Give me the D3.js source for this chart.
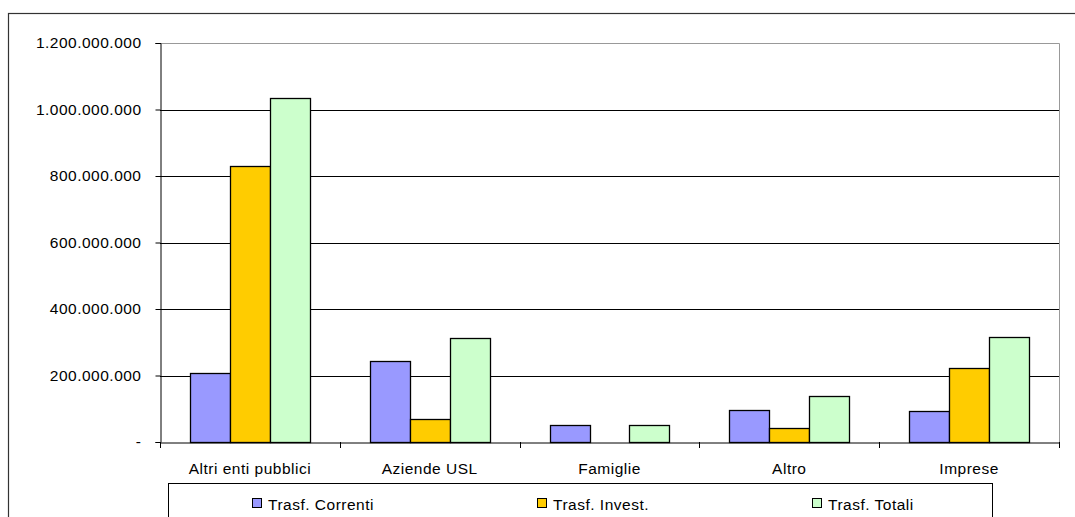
<!DOCTYPE html>
<html><head><meta charset="utf-8">
<script src="https://cdn.jsdelivr.net/npm/d3@7/dist/d3.min.js"></script>
<style>
html,body{margin:0;padding:0;background:#fff;}
text{font-family:"Liberation Sans",Arial,sans-serif;font-size:15px;fill:#000;letter-spacing:0.5px;}
</style></head>
<body>
<svg id="c" width="1075" height="517"></svg>
<script>
const categories = ["Altri enti pubblici","Aziende USL","Famiglie","Altro","Imprese"];
const seriesNames = ["Trasf. Correnti","Trasf. Invest.","Trasf. Totali"];
const correnti = [207000000, 243000000, 51000000, 96000000, 92000000];
const invest   = [829000000, 69000000, 0, 41000000, 224000000];
const totali   = [1036000000, 312000000, 51000000, 137000000, 316000000];
const yTicks = [0, 200000000, 400000000, 600000000, 800000000, 1000000000, 1200000000];
const yTickLabels = ["-", "200.000.000", "400.000.000", "600.000.000", "800.000.000", "1.000.000.000", "1.200.000.000"];
const colors = ["#9999FF", "#FFCC00", "#CCFFCC"];

const series = [correnti, invest, totali];
const svg = d3.select("#c");
const L = 160, R = 1059, T = 43, B = 442;

// outer frame
svg.append("rect").attr("x", 8.5).attr("y", 13.5).attr("width", 1080).attr("height", 600)
  .attr("fill", "none").attr("stroke", "#333").attr("stroke-width", 1.2);

const x0 = d3.scaleBand().domain(categories).range([L, R]).paddingInner(0).paddingOuter(0);
const x1 = d3.scaleBand().domain(d3.range(3)).range([0, x0.bandwidth()]).paddingInner(0).paddingOuter(0.75);
const y = d3.scaleLinear().domain([0, 1200000000]).range([B, T]);

// plot area border (gray top/right)
svg.append("path").attr("d", `M${L},${T + 0.5}H${R + 0.5}V${B}`).attr("fill", "none")
  .attr("stroke", "#999").attr("stroke-width", 1);

// gridlines
svg.append("g").selectAll("line").data(yTicks.filter(d => d > 0 && d < 1200000000)).join("line")
  .attr("x1", L).attr("x2", R).attr("y1", d => Math.round(y(d)) + 0.5).attr("y2", d => Math.round(y(d)) + 0.5)
  .attr("stroke", "#000").attr("stroke-width", 1);

// bars
const g = svg.append("g");
categories.forEach((c, i) => {
  series.forEach((s, j) => {
    const v = s[i];
    if (v <= 0) return;
    const xx = x0(c) + x1(j);
    g.append("rect")
      .attr("x", Math.round(xx) + 0.5)
      .attr("y", Math.round(y(v)) + 0.5)
      .attr("width", Math.round(x1.bandwidth()))
      .attr("height", Math.round(y(0)) - Math.round(y(v)))
      .attr("fill", colors[j]).attr("stroke", "#000").attr("stroke-width", 1.3);
  });
});

// y axis
const yAxis = d3.axisLeft(y).tickValues(yTicks).tickSize(5).tickPadding(14)
  .tickFormat((d, i) => yTickLabels[i]);
const ya = svg.append("g").attr("transform", `translate(${L + 0.5},0)`).call(yAxis);
ya.select(".domain").attr("stroke", "#000");
ya.selectAll(".tick line").attr("stroke", "#000");
ya.selectAll("text").attr("font-family", null).attr("font-size", null).style("font-size", "15.5px");

// x axis
const xa = svg.append("g").attr("transform", `translate(0,${B + 0.5})`)
  .call(d3.axisBottom(x0).tickSize(0).tickPadding(20));
xa.select(".domain").attr("stroke", "#000");
xa.selectAll("text").attr("font-family", null).attr("font-size", null).style("font-size", "15.5px");
const bounds = [L].concat(categories.map(c => x0(c) + x0.bandwidth()));
svg.append("g").selectAll("line").data(bounds).join("line")
  .attr("x1", d => Math.round(d) + 0.5).attr("x2", d => Math.round(d) + 0.5)
  .attr("y1", B).attr("y2", B + 6).attr("stroke", "#000");

// legend
svg.append("rect").attr("x", 168.5).attr("y", 483.5).attr("width", 824).attr("height", 60)
  .attr("fill", "#fff").attr("stroke", "#000").attr("stroke-width", 1);
const legX = [252, 537, 812];
const lg = svg.append("g");
seriesNames.forEach((n, j) => {
  lg.append("rect").attr("x", legX[j] + 0.5).attr("y", 498.5).attr("width", 9).attr("height", 9)
    .attr("fill", colors[j]).attr("stroke", "#000").attr("stroke-width", 1);
  lg.append("text").attr("x", legX[j] + 16).attr("y", 509.5).style("font-size", "15.5px").text(n);
});
</script>
</body></html>
